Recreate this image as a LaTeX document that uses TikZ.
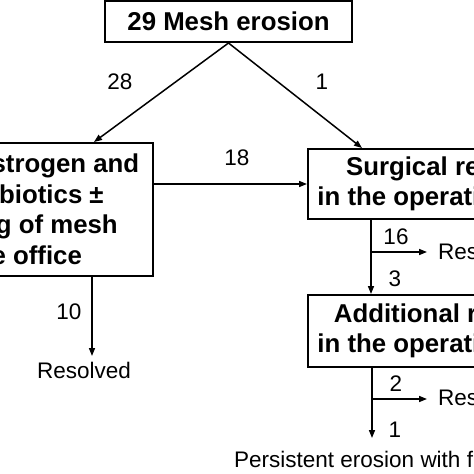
\documentclass[tikz,border=0pt]{standalone}
\usepackage{fontspec}
\setmainfont{Liberation Sans}
\usetikzlibrary{arrows.meta}
\begin{document}
\begin{tikzpicture}[x=1pt,y=-1pt,
  box/.style={draw, line width=2pt, inner sep=0pt, font=\fontsize{25.8}{30.5}\selectfont\bfseries, align=center},
  lbl/.style={inner sep=0pt, font=\fontsize{22.5}{26}\selectfont},
  arr/.style={line width=1.5pt, -{Triangle[length=8pt,width=6pt]}}]
\useasboundingbox (0,0) rectangle (474,474);
\fill[white] (0,0) rectangle (474,474);
\clip (0,0) rectangle (474,474);
\node[box, minimum width=247pt, minimum height=41pt] (top) at (228.5,21.5) {29 Mesh erosion};
\node[box, minimum width=287pt, minimum height=133pt] (left) at (9.5,209.5) {Vaginal estrogen and\\\hspace*{38pt}antibiotics ±\\trimming of mesh\\in the office};
\node[box, minimum width=284pt, minimum height=70pt] (surg) at (450,184) {Surgical revision\\in the operating room};
\node[box, minimum width=284pt, minimum height=72pt] (add) at (450,331) {Additional revision\\in the operating room};
\draw[arr] (top.south) -- ([xshift=-60pt]left.north east);
\draw[arr] (top.south) -- ([xshift=55pt]surg.north west);
\draw[arr] (left.east |- surg.west) -- (surg.west);
\node[lbl] (n28) at (120,82) {28};
\node[lbl] (n1a) at (322,82) {1};
\node[lbl] (n18) at (237,158) {18};
\coordinate (t1) at (92,356);
\draw[arr] (t1 |- left.south) -- (t1);
\node[lbl] (n10) at (69,312) {10};
\node[lbl, anchor=base] (res1) at (84,378) {Resolved};
\draw[arr] ([xshift=64pt]surg.south west) -- ([xshift=64pt]add.north west);
\coordinate (b1) at (372,252);
\node[lbl, anchor=base west] (res2) at (438,259) {Resolved};
\draw[arr, shorten >=11pt] (b1) -- (b1 -| res2.west);
\node[lbl] (n16) at (396,236.5) {16};
\node[lbl] (n3) at (395,278.5) {3};
\coordinate (t4) at (372,438);
\draw[arr] (t4 |- add.south) -- (t4);
\coordinate (b2) at (372,399);
\node[lbl, anchor=base west] (res3) at (438,405) {Resolved};
\draw[arr, shorten >=11pt] (b2) -- (b2 -| res3.west);
\node[lbl] (n2) at (396,384) {2};
\node[lbl] (n1b) at (395,430) {1};
\node[lbl, anchor=base west] (pers) at (234,467) {Persistent erosion with fistula};
\end{tikzpicture}
\end{document}
